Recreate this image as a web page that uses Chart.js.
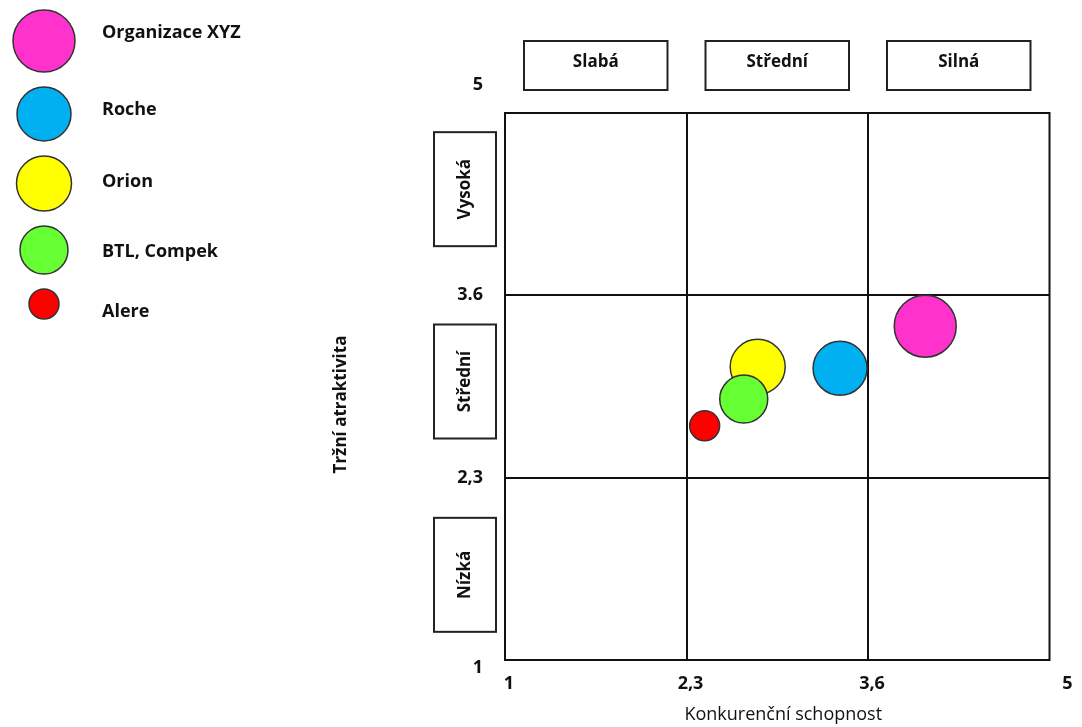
<!DOCTYPE html>
<html>
<head>
<meta charset="utf-8">
<script src="https://cdn.jsdelivr.net/npm/chart.js@4.4.0/dist/chart.umd.min.js"></script>
<style>
  html, body { margin: 0; padding: 0; background: #fff; }
  #wrap { width: 1082px; height: 727px; }
</style>
</head>
<body>
<div id="wrap"><canvas id="matrix"></canvas></div>
<script>
// data
const companies = ['Organizace XYZ', 'Roche', 'Orion', 'BTL, Compek', 'Alere'];
const competitiveStrength = [4.01, 3.40, 2.81, 2.71, 2.43];
const marketAttractiveness = [3.38, 3.08, 3.09, 2.86, 2.67];
const bubbleSizes = [31, 27, 27.5, 24, 15];
const bubbleColors = ['#ff33cc', '#00b0f0', '#ffff00', '#66ff33', '#ff0000'];

const axisTicks = [1, 2.3, 3.6, 5];
const xTickLabels = ['1', '2,3', '3,6', '5'];
const yTickLabels = ['1', '2,3', '3.6', '5'];
const strengthLevels = ['Slabá', 'Střední', 'Silná'];
const attractLevels = ['Nízká', 'Střední', 'Vysoká'];
const xTitle = 'Konkurenční schopnost';
const yTitle = 'Tržní atraktivita';

const FONT = '"Open Sans", "Noto Sans", sans-serif';

function font(size, bold) {
  return (bold ? 'bold ' : '') + size + 'px ' + FONT;
}

function boxLabel(ctx, x, y, w, h, text, rotate) {
  ctx.strokeStyle = '#222';
  ctx.lineWidth = 2;
  ctx.strokeRect(x, y, w, h);
  ctx.save();
  ctx.translate(x + w / 2, y + h / 2);
  if (rotate) ctx.rotate(-Math.PI / 2);
  ctx.fillStyle = '#111';
  ctx.font = font(17, true);
  ctx.textAlign = 'center';
  ctx.textBaseline = 'middle';
  ctx.fillText(text, 0, rotate ? 0 : -3);
  ctx.restore();
}

const matrixDecor = {
  id: 'matrixDecor',
  beforeDatasetsDraw(chart) {
    const ctx = chart.ctx;
    const a = chart.chartArea;
    ctx.save();
    ctx.strokeStyle = '#111';
    ctx.lineWidth = 2;
    ctx.strokeRect(a.left, a.top, a.right - a.left, a.bottom - a.top);
    ctx.restore();
  },
  afterDraw(chart) {
    const ctx = chart.ctx;
    const a = chart.chartArea;
    const xs = chart.scales.x;
    const ys = chart.scales.y;
    ctx.save();

    // tick labels
    ctx.fillStyle = '#111';
    ctx.font = font(18, true);
    ctx.textBaseline = 'middle';
    ctx.textAlign = 'center';
    axisTicks.forEach(function (v, i) {
      ctx.fillText(xTickLabels[i], xs.getPixelForValue(v) + 4, a.bottom + 24);
    });
    ctx.textAlign = 'right';
    axisTicks.forEach(function (v, i) {
      let y = ys.getPixelForValue(v);
      if (v === ys.min) y += 8;
      if (v > ys.max) y -= 14;
      ctx.fillText(yTickLabels[i], a.left - 22, y);
    });

    // level boxes above columns
    const xEdges = [1, 2.3, 3.6, xs.max].map(function (v) { return xs.getPixelForValue(v); });
    strengthLevels.forEach(function (t, i) {
      const l = xEdges[i] + 19;
      const r = xEdges[i + 1] - 19;
      boxLabel(ctx, l, a.top - 72, r - l, 49, t, false);
    });

    // level boxes left of rows
    const yEdges = [1, 2.3, 3.6, ys.max].map(function (v) { return ys.getPixelForValue(v); });
    attractLevels.forEach(function (t, i) {
      const mid = (yEdges[i] + yEdges[i + 1]) / 2 + [6, -5, -15][i];
      boxLabel(ctx, a.left - 71, mid - 57, 62, 114, t, true);
    });

    // axis titles
    ctx.fillStyle = '#111';
    ctx.textAlign = 'center';
    ctx.font = font(18, false);
    ctx.fillText(xTitle, (a.left + a.right) / 2 + 6, a.bottom + 55);
    ctx.save();
    ctx.translate(a.left - 164, (a.top + a.bottom) / 2 + 18);
    ctx.rotate(-Math.PI / 2);
    ctx.font = font(17, true);
    ctx.fillText(yTitle, 0, 0);
    ctx.restore();

    // legend
    let cy = 10;
    companies.forEach(function (name, i) {
      const r = bubbleSizes[i];
      cy += r;
      ctx.beginPath();
      ctx.arc(44, cy, r, 0, Math.PI * 2);
      ctx.fillStyle = bubbleColors[i];
      ctx.fill();
      ctx.lineWidth = 1.5;
      ctx.strokeStyle = '#333';
      ctx.stroke();
      ctx.fillStyle = '#111';
      ctx.font = font(18, true);
      ctx.textAlign = 'left';
      ctx.fillText(name, 102, cy + [-8, -4, -2, 2, 8][i]);
      cy += r + 15;
    });

    ctx.restore();
  }
};

const points = companies.map(function (name, i) {
  return { x: competitiveStrength[i], y: marketAttractiveness[i], r: bubbleSizes[i] };
});

new Chart(document.getElementById('matrix').getContext('2d'), {
  type: 'bubble',
  data: {
    labels: companies,
    datasets: [{
      label: 'Firmy',
      data: points,
      backgroundColor: bubbleColors,
      borderColor: '#333',
      borderWidth: 1.5
    }]
  },
  options: {
    responsive: true,
    maintainAspectRatio: false,
    animation: false,
    layout: { padding: { left: 505, top: 113, right: 24, bottom: 67 } },
    plugins: {
      legend: { display: false },
      tooltip: { enabled: false }
    },
    scales: {
      x: {
        type: 'linear',
        min: 1,
        max: 4.9,
        afterBuildTicks: function (s) {
          s.ticks = axisTicks.filter(function (v) { return v > s.min && v < s.max; }).map(function (v) { return { value: v }; });
        },
        ticks: { display: false },
        grid: { color: '#111', lineWidth: 2, drawTicks: false },
        border: { display: false }
      },
      y: {
        type: 'linear',
        min: 1,
        max: 4.9,
        afterBuildTicks: function (s) {
          s.ticks = axisTicks.filter(function (v) { return v > s.min && v < s.max; }).map(function (v) { return { value: v }; });
        },
        ticks: { display: false },
        grid: { color: '#111', lineWidth: 2, drawTicks: false },
        border: { display: false }
      }
    }
  },
  plugins: [matrixDecor]
});
</script>
</body>
</html>
